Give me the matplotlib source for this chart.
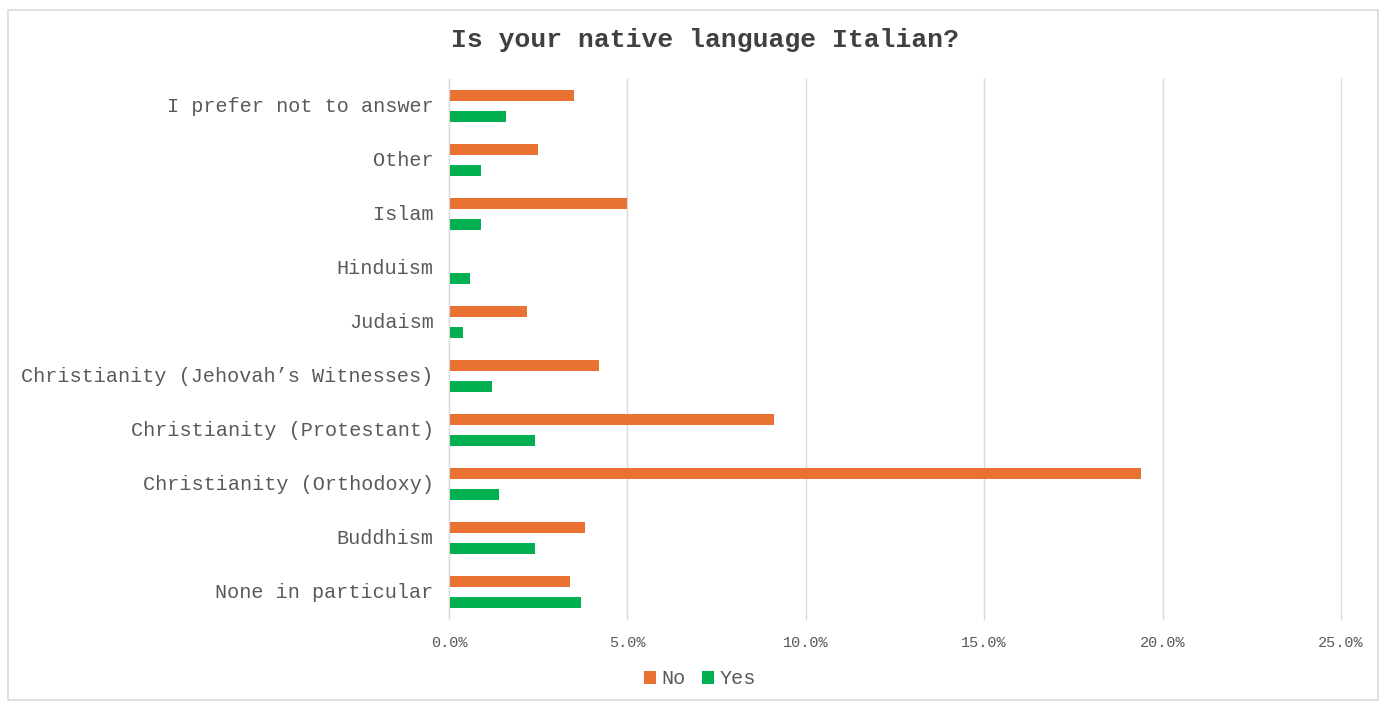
import matplotlib
matplotlib.use("Agg")
import matplotlib.pyplot as plt
from matplotlib.patches import Rectangle
from matplotlib.ticker import FuncFormatter
import numpy as np

plt.rcParams['font.family'] = ['Liberation Mono', 'DejaVu Sans Mono']

categories = [
    "None in particular",
    "Buddhism",
    "Christianity (Orthodoxy)",
    "Christianity (Protestant)",
    "Christianity (Jehovah\u2019s Witnesses)",
    "Judaism",
    "Hinduism",
    "Islam",
    "Other",
    "I prefer not to answer",
]
no_values = [3.4, 3.8, 19.4, 9.1, 4.2, 2.2, 0.0, 5.0, 2.5, 3.5]
yes_values = [3.7, 2.4, 1.4, 2.4, 1.2, 0.4, 0.6, 0.9, 0.9, 1.6]
x_ticks = [0, 5, 10, 15, 20, 25]

orange = "#E97132"
green = "#00B050"
text_grey = "#595959"
grid_grey = "#D9D9D9"

W, H = 1380, 702
fig = plt.figure(figsize=(W / 100, H / 100), dpi=100)

# chart-area border
fig.patches.append(Rectangle((8 / W, 2 / H), 1370 / W, 690 / H,
                             transform=fig.transFigure, fill=False,
                             edgecolor=grid_grey, linewidth=1.2))

ax = fig.add_axes([449 / W, (H - 619) / H, (1341 - 449) / W, (619 - 79) / H])

y = np.arange(len(categories))
h = 0.2
ax.barh(y + 0.2, no_values, height=h, color=orange, label="No")
ax.barh(y - 0.2, yes_values, height=h, color=green, label="Yes")

ax.set_ylim(-0.5, len(categories) - 0.5)
ax.set_xlim(0, 25)
ax.set_xticks(x_ticks)
ax.xaxis.set_major_formatter(FuncFormatter(lambda v, p: f"{v:.1f}%"))
ax.set_yticks(y)
ax.set_yticklabels(categories)

ax.grid(axis="x", color=grid_grey, linewidth=1)
for gl in ax.get_xgridlines():
    gl.set_clip_on(False)
ax.set_axisbelow(True)
for side in ["top", "right", "bottom"]:
    ax.spines[side].set_visible(False)
ax.spines["left"].set_color(grid_grey)
ax.tick_params(axis="y", length=0, pad=11, labelsize=14.5, labelcolor=text_grey)
ax.tick_params(axis="x", length=0, pad=12, labelsize=11, labelcolor=text_grey)
for lbl in ax.get_yticklabels():
    lbl.set_verticalalignment("center")

fig.text(705 / W, 1 - 40 / H, "Is your native language Italian?",
         ha="center", va="center", fontsize=19, fontweight="bold",
         color="#404040")

fig.legend(loc="center", bbox_to_anchor=(700 / W, 1 - 679 / H), ncol=2,
           frameon=False, fontsize=14.5, labelcolor=text_grey,
           handlelength=0.6, handleheight=0.6, handletextpad=0.3,
           columnspacing=0.8)

fig.savefig("out.png", dpi=100, facecolor="white")
